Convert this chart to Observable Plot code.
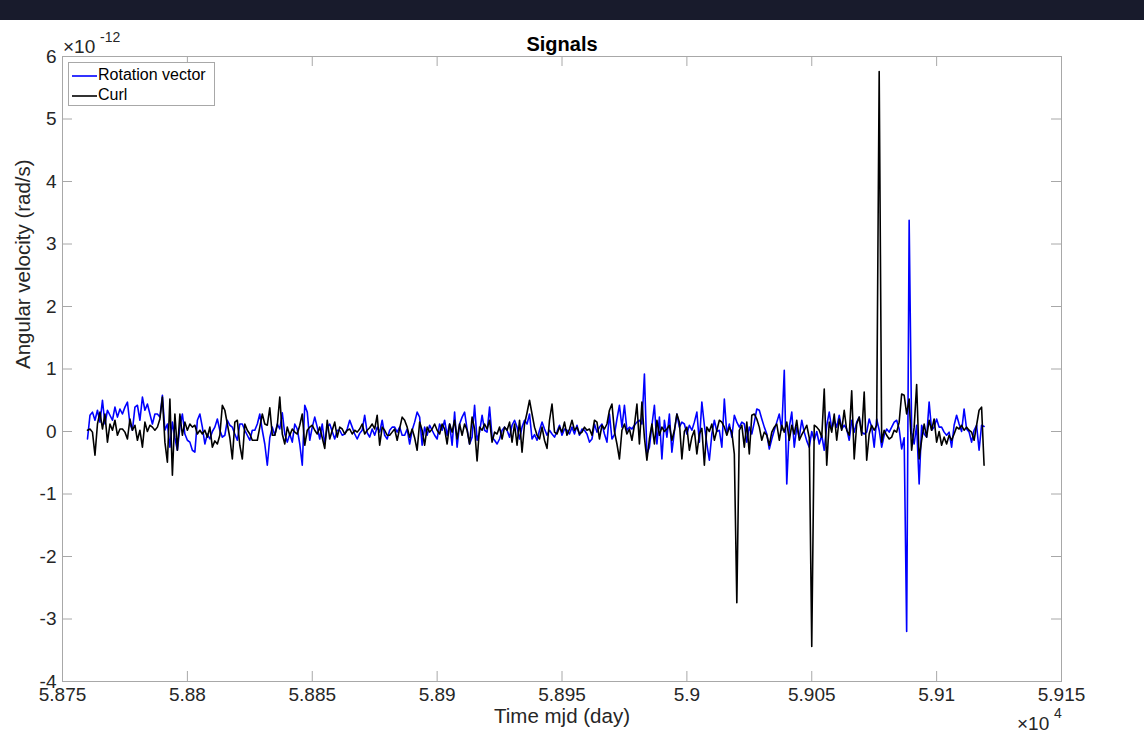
<!DOCTYPE html>
<html>
<head>
<meta charset="utf-8">
<script src="https://cdn.jsdelivr.net/npm/d3@7"></script>
<script src="https://cdn.jsdelivr.net/npm/@observablehq/plot@0.6"></script>
<style>
  html, body { margin: 0; padding: 0; background: #ffffff; }
  #wrap { position: relative; width: 1144px; height: 737px; overflow: hidden;
          font-family: "Liberation Sans", Arial, Helvetica, sans-serif; background: #fff; }
  #topbar { position: absolute; left: 0; top: 0; width: 1144px; height: 20px; background: #181b2c; }
  #chart { position: absolute; left: 0; top: 0; }
  .exp { position: absolute; color: #262626; font-size: 19px; line-height: 19px; white-space: nowrap; }
  .sup { position: absolute; color: #262626; font-size: 14px; line-height: 14px; white-space: nowrap; }
  #legend { position: absolute; left: 68px; top: 62px; width: 147px; height: 44px; box-sizing: border-box;
            background: #fff; border: 1px solid #a8a8a8; font-size: 16px; color: #000; }
  .lrow { position: absolute; left: 0; height: 20px; width: 100%; }
  .lsw { position: absolute; left: 3px; top: 9px; }
  .ltext { position: absolute; left: 29px; top: 1px; line-height: 18px; white-space: nowrap; }
</style>
</head>
<body>
<div id="wrap">
  <div id="chart"></div>
  <div id="topbar"></div>
  <div id="legend"></div>
  <div class="exp" id="yexp" style="left:63px; top:37px;"></div>
  <div class="sup" id="yexpsup" style="left:100px; top:30px;"></div>
  <div class="exp" id="xexp" style="left:1017px; top:714px;"></div>
  <div class="sup" id="xexpsup" style="left:1054px; top:706px;"></div>
</div>
<script>
// ---------- data (values in units of 1e-12 rad/s, daily samples) ----------
const mjdStart = 58760;

const rotationVector = [
  -0.12, 0.26, 0.31, 0.18, 0.34, 0.15, 0.5, 0.12, 0.34, 0.26,
  0.18, 0.39, 0.23, 0.36, 0.28, 0.39, 0.47, 0.12, 0.02, 0.39,
  0.42, 0.18, 0.55, 0.34, 0.44, 0.28, 0.12, 0.28, 0.28, 0.23,
  0.58, 0.02, 0.12, -0.25, 0.15, -0.1, -0.3, 0.07, 0.28, -0.04,
  -0.14, -0.17, -0.3, -0.33, 0.18, 0.28, 0.07, -0.2, -0.04, -0.12,
  0.0, 0.07, 0.2, 0.02, -0.09, -0.06, 0.18, 0.1, 0.07, -0.04,
  -0.14, 0.12, 0.12, 0.02, -0.06, -0.14, 0.02, 0.02, 0.12, 0.28,
  0.02, -0.2, -0.54, -0.1, 0.07, -0.06, 0.12, 0.04, 0.3, -0.04,
  -0.17, -0.04, -0.17, 0.12, 0.04, -0.2, -0.54, 0.42, 0.31, -0.14,
  0.07, 0.23, 0.07, -0.12, 0.12, -0.2, 0.07, 0.12, 0.0, -0.12,
  0.02, 0.02, -0.06, -0.04, 0.04, 0.18, 0.07, -0.04, -0.12, -0.03,
  0.02, 0.26, -0.02, -0.09, 0.04, -0.06, 0.07, -0.01, 0.18, -0.06,
  -0.12, 0.02, 0.07, 0.07, -0.01, 0.07, -0.06, -0.06, 0.04, -0.2,
  0.02, 0.15, 0.31, 0.23, -0.22, 0.07, -0.06, 0.1, 0.02, -0.06,
  -0.12, 0.12, 0.02, 0.18, -0.06, 0.12, -0.22, 0.31, -0.25, 0.12,
  0.23, 0.31, 0.04, -0.2, -0.09, 0.42, -0.14, -0.01, 0.26, 0.02,
  -0.01, 0.39, -0.09, -0.14, -0.2, -0.12, 0.02, 0.07, 0.02, -0.09,
  0.1, 0.18, 0.07, -0.12, 0.07, 0.18, 0.12, 0.28, -0.12, -0.05,
  -0.14, 0.02, 0.15, 0.04, -0.06, 0.02, -0.04, -0.09, 0.0, 0.1,
  -0.06, 0.04, 0.02, -0.04, 0.07, -0.04, 0.1, -0.06, 0.04, 0.02,
  -0.04, -0.17, -0.12, 0.12, -0.01, 0.07, 0.12, -0.04, -0.17, 0.28,
  -0.12, -0.05, 0.2, 0.42, 0.07, 0.42, 0.02, 0.07, 0.04, 0.1,
  0.15, 0.18, 0.12, 0.92, -0.36, -0.25, 0.1, 0.42, -0.2, 0.23,
  -0.44, 0.18, -0.09, 0.28, -0.33, 0.0, 0.28, 0.07, 0.15, 0.12,
  -0.04, 0.1, 0.02, 0.15, 0.31, -0.17, 0.47, 0.1, -0.2, -0.46,
  -0.04, 0.18, 0.0, 0.02, -0.25, 0.52, -0.04, 0.12, -0.09, 0.26,
  0.15, 0.07, 0.15, 0.12, -0.17, 0.07, -0.04, 0.15, 0.36, 0.34,
  0.2, 0.07, -0.04, -0.28, -0.12, 0.02, 0.15, 0.28, 0.02, 0.98,
  -0.84, 0.07, 0.31, -0.25, 0.07, -0.09, 0.18, -0.01, -0.15, -0.25,
  0.0, -0.14, 0.0, -0.2, -0.06, -0.3, 0.1, 0.31, 0.04, 0.18,
  0.07, 0.26, 0.04, 0.1, 0.04, -0.14, 0.18, -0.01, 0.15, 0.23,
  -0.01, -0.04, -0.01, 0.2, 0.07, -0.25, 0.2, 0.02, -0.25, -0.06,
  0.04, -0.01, 0.07, 0.15, 0.18, 0.04, -0.28, -0.1, -3.2, 3.38,
  -0.01, -0.2, 0.1, -0.84, 0.1, -0.04, -0.09, 0.47, 0.02, 0.07,
  0.2, 0.07, 0.07, -0.01, -0.06, -0.01, -0.25, 0.1, 0.26, 0.12,
  0.0, 0.36, 0.04, -0.01, -0.17, 0.02, 0.1, -0.3, 0.1, 0.08
];

const curl = [
  0.02, 0.04, -0.01, -0.38, 0.12, 0.31, 0.04, 0.28, -0.17, 0.12,
  0.02, 0.18, -0.06, 0.04, 0.04, -0.01, -0.12, 0.2, 0.02, 0.1,
  -0.14, 0.02, -0.25, 0.15, 0.0, 0.1, 0.07, 0.02, 0.07, 0.2,
  0.55, -0.17, -0.49, 0.52, -0.7, 0.28, -0.3, 0.28, -0.06, 0.15,
  0.02, 0.12, 0.07, 0.1, -0.04, 0.02, -0.04, 0.02, -0.09, 0.07,
  -0.25, -0.15, -0.2, -0.06, 0.42, 0.34, 0.12, -0.1, -0.44, 0.15,
  0.18, -0.22, -0.44, 0.12, 0.02, -0.04, -0.14, -0.14, -0.14, 0.07,
  0.28, 0.12, 0.1, 0.38, -0.06, -0.06, 0.1, 0.55, -0.04, -0.2,
  0.07, -0.06, 0.04, -0.01, -0.04, 0.1, 0.28, -0.22, 0.02, 0.07,
  0.1, 0.02, -0.04, 0.07, -0.1, -0.27, 0.18, -0.12, 0.02, 0.15,
  -0.09, 0.07, 0.04, -0.04, 0.02, 0.04, -0.04, 0.02, -0.01, 0.04,
  0.12, -0.04, 0.02, 0.06, 0.12, 0.04, 0.26, -0.22, 0.07, 0.02,
  -0.06, -0.06, -0.01, 0.04, -0.14, 0.05, 0.23, 0.18, 0.07, -0.09,
  0.04, -0.1, -0.3, 0.15, 0.02, -0.22, 0.07, -0.01, 0.04, 0.12,
  0.02, -0.04, 0.12, 0.04, -0.2, 0.12, -0.01, 0.18, -0.12, 0.12,
  -0.06, 0.12, 0.02, -0.2, 0.23, 0.04, -0.47, 0.07, 0.02, 0.12,
  0.04, 0.18, -0.17, -0.01, -0.04, 0.07, -0.12, 0.07, 0.02, 0.15,
  -0.17, 0.12, -0.22, 0.18, -0.33, 0.12, 0.3, 0.5, 0.28, 0.07,
  -0.06, -0.12, 0.07, -0.14, -0.27, 0.18, 0.44, -0.01, -0.04, 0.07,
  -0.01, 0.15, -0.06, 0.04, 0.18, 0.02, 0.07, -0.04, -0.01, 0.07,
  0.02, 0.04, -0.06, 0.18, 0.15, -0.12, 0.1, 0.04, 0.12, 0.34,
  0.44, 0.0, -0.2, -0.44, 0.02, 0.12, -0.04, 0.04, -0.14, 0.1,
  0.44, -0.2, 0.47, -0.1, -0.46, -0.12, 0.12, -0.2, 0.18, -0.06,
  0.07, 0.0, 0.04, 0.1, -0.14, 0.02, 0.28, 0.15, -0.44, 0.0,
  0.07, -0.3, -0.09, 0.02, -0.36, -0.04, 0.05, -0.54, 0.07, 0.0,
  0.12, -0.14, 0.02, 0.18, 0.15, 0.07, -0.06, 0.07, -0.01, -0.36,
  -2.74, 0.02, 0.1, -0.25, 0.15, -0.36, 0.26, 0.28, 0.2, 0.07,
  -0.14, -0.01, -0.06, -0.22, -0.01, 0.07, 0.12, -0.14, 0.1, -0.01,
  0.15, -0.14, 0.1, -0.04, 0.18, -0.14, -0.05, 0.02, 0.1, -0.1,
  -3.44, 0.1, 0.07, 0.02, -0.09, 0.68, -0.54, 0.15, -0.01, 0.28,
  -0.14, 0.2, 0.02, 0.34, 0.02, -0.06, 0.65, -0.44, 0.12, 0.23,
  -0.06, 0.63, -0.46, -0.04, 0.1, 0.02, 0.1, 5.76, -0.17, 0.02,
  -0.06, -0.12, -0.09, 0.02, -0.01, 0.15, 0.6, 0.58, 0.28, 0.52,
  -0.3, 0.07, 0.75, -0.44, -0.14, 0.12, -0.09, 0.18, 0.02, 0.2,
  -0.17, 0.0, -0.22, -0.09, -0.2, -0.06, -0.14, -0.04, 0.07, 0.04,
  0.1, 0.02, 0.07, 0.02, -0.01, -0.14, 0.1, 0.34, 0.39, -0.54
];

const seriesNames = ["Rotation vector", "Curl"];
const seriesColors = ["#0000ff", "#000000"];

const xTicks = [58750, 58800, 58850, 58900, 58950, 59000, 59050, 59100, 59150];
const xTickLabels = ["5.875", "5.88", "5.885", "5.89", "5.895", "5.9", "5.905", "5.91", "5.915"];
const yTicks = [-4, -3, -2, -1, 0, 1, 2, 3, 4, 5, 6];
const yTickLabels = ["-4", "-3", "-2", "-1", "0", "1", "2", "3", "4", "5", "6"];

const titleText = "Signals";
const xLabelText = "Time mjd (day)";
const yLabelText = "Angular velocity (rad/s)";
const yExponent = ["\u00d710", "-12"];
const xExponent = ["\u00d710", "4"];

// ---------- build ----------
const toRows = arr => arr.map((v, i) => ({t: mjdStart + i, v}));
const W = 1144, H = 737;
const mL = 62, mR = 83, mT = 56, mB = 56;
const plotW = W - mL - mR, plotH = H - mT - mB;
const tickLen = 10;
const axisGray = "#a8a8a8";
const font = '"Liberation Sans", Arial, Helvetica, sans-serif';

const chart = Plot.plot({
  width: W, height: H,
  marginLeft: mL, marginRight: mR, marginTop: mT, marginBottom: mB,
  style: {fontFamily: font, fontSize: "19px", color: "#262626", background: "transparent", overflow: "visible"},
  x: {domain: [xTicks[0], xTicks[xTicks.length - 1]]},
  y: {domain: [yTicks[0], yTicks[yTicks.length - 1]]},
  marks: [
    Plot.frame({stroke: axisGray, strokeWidth: 1}),
    Plot.tickX(xTicks, {x: d => d, insetTop: plotH - tickLen, stroke: axisGray}),
    Plot.tickX(xTicks, {x: d => d, insetBottom: plotH - tickLen, stroke: axisGray}),
    Plot.tickY(yTicks, {y: d => d, insetLeft: plotW - tickLen, stroke: axisGray}),
    Plot.tickY(yTicks, {y: d => d, insetRight: plotW - tickLen, stroke: axisGray}),
    Plot.axisX({ticks: xTicks, tickFormat: d => xTickLabels[xTicks.indexOf(d)], tickSize: 0, tickPadding: 6,
                label: null, fontSize: 19, fill: "#262626"}),
    Plot.axisY({ticks: yTicks, tickFormat: d => yTickLabels[yTicks.indexOf(d)], tickSize: 0, tickPadding: 6,
                label: null, fontSize: 19, fill: "#262626"}),
    Plot.line(toRows(rotationVector), {x: "t", y: "v", stroke: seriesColors[0], strokeWidth: 1.6}),
    Plot.line(toRows(curl), {x: "t", y: "v", stroke: seriesColors[1], strokeWidth: 1.6}),
    Plot.text([xLabelText], {text: d => d, frameAnchor: "bottom", dy: 41, fontSize: 20.5, fill: "#262626"}),
    Plot.text([yLabelText], {text: d => d, frameAnchor: "left", dx: -39, rotate: -90, fontSize: 20.5, fill: "#262626"}),
    Plot.text([titleText], {text: d => d, frameAnchor: "top", dy: -6, lineAnchor: "bottom",
                            fontSize: 20, fontWeight: "bold", fill: "#000"})
  ]
});
document.getElementById("chart").appendChild(chart);

// exponent annotations
document.getElementById("yexp").textContent = yExponent[0];
document.getElementById("yexpsup").textContent = yExponent[1];
document.getElementById("xexp").textContent = xExponent[0];
document.getElementById("xexpsup").textContent = xExponent[1];

// legend
const legend = document.getElementById("legend");
const svgNS = "http://www.w3.org/2000/svg";
seriesNames.forEach((name, i) => {
  const row = document.createElement("div");
  row.className = "lrow";
  row.style.top = (2 + i * 20) + "px";
  const sw = document.createElementNS(svgNS, "svg");
  sw.setAttribute("class", "lsw");
  sw.setAttribute("width", "26");
  sw.setAttribute("height", "4");
  const ln = document.createElementNS(svgNS, "line");
  ln.setAttribute("x1", "0"); ln.setAttribute("x2", "25");
  ln.setAttribute("y1", "2"); ln.setAttribute("y2", "2");
  ln.setAttribute("stroke", seriesColors[i]);
  ln.setAttribute("stroke-width", "1.6");
  sw.appendChild(ln);
  const txt = document.createElement("div");
  txt.className = "ltext";
  txt.textContent = name;
  row.appendChild(sw);
  row.appendChild(txt);
  legend.appendChild(row);
});
</script>
</body>
</html>
